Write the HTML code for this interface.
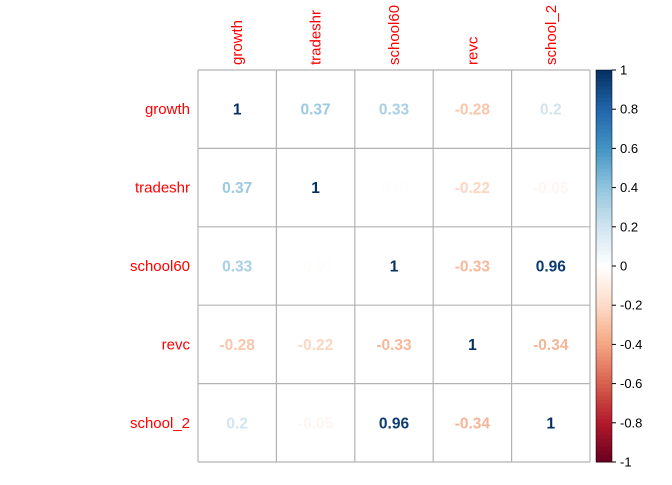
<!DOCTYPE html>
<html><head><meta charset="utf-8"><style>
body{margin:0;background:#fff}
text{font-family:"Liberation Sans",Arial,sans-serif}
</style></head><body>
<svg id="c" width="672" height="480" xmlns="http://www.w3.org/2000/svg"></svg>
<script>
const vars=["growth","tradeshr","school60","revc","school_2"];
const row0=[1,0.37,0.33,-0.28,0.2];
const row1=[0.37,1,-0.01,-0.22,-0.05];
const row2=[0.33,-0.01,1,-0.33,0.96];
const row3=[-0.28,-0.22,-0.33,1,-0.34];
const row4=[0.2,-0.05,0.96,-0.34,1];
const matrix=[row0,row1,row2,row3,row4];
const ticks=[-1,-0.8,-0.6,-0.4,-0.2,0,0.2,0.4,0.6,0.8,1];
const pal=["#67001F","#B2182B","#D6604D","#F4A582","#FDDBC7","#FFFFFF","#D1E5F0","#92C5DE","#4393C3","#2166AC","#053061"];
function hex(h){return [1,3,5].map(i=>parseInt(h.substr(i,2),16));}
function col(v){const t=(v+1)/2*(pal.length-1);const i=Math.min(Math.floor(t),pal.length-2);const f=t-i;
const a=hex(pal[i]),b=hex(pal[i+1]);return "rgb("+a.map((x,k)=>Math.round(x+(b[k]-x)*f)).join(",")+")";}
const svg=document.getElementById('c');const NS="http://www.w3.org/2000/svg";
function el(t,at,p){const e=document.createElementNS(NS,t);for(const k in at)e.setAttribute(k,at[k]);(p||svg).appendChild(e);return e;}
const L=198,T=70,S=392,n=vars.length,cw=S/n;
const X=j=>L+j*cw, Y=i=>T+i*cw;
for(let i=0;i<n;i++)for(let j=0;j<n;j++){
 const v=matrix[i][j];
 const tx=el('text',{x:X(j)+cw/2,y:Y(i)+cw/2+5.5,'text-anchor':'middle','font-size':15.5,'font-weight':'bold',fill:col(v)});
 
 
 tx.textContent=v;
}
for(let k=0;k<=n;k++){
 const a=el('line',{x1:X(k),y1:T,x2:X(k),y2:T+S,stroke:'#b3b3b3','stroke-width':1.2});
 
 const b=el('line',{x1:L,y1:Y(k),x2:L+S,y2:Y(k),stroke:'#b3b3b3','stroke-width':1.2});
 
}
vars.forEach((v,i)=>{
 const r=el('text',{x:190,y:Y(i)+cw/2+5,'text-anchor':'end','font-size':15,fill:'#ff0000'});
 r.textContent=v;
 const cx=X(i)+cw/2+5;
 const c=el('text',{x:cx,y:65,'font-size':15,fill:'#ff0000',transform:'rotate(-90 '+cx+' 65)'});
 c.textContent=v;
});
const bx=596,bw=16;
const g=el('g',{});
const steps=100;
for(let k=0;k<steps;k++){const v=-1+2*(k+0.5)/steps;
 el('rect',{x:bx,y:T+S-(k+1)*S/steps,width:bw,height:S/steps+0.5,fill:col(v)},g);}
el('rect',{x:bx,y:T,width:bw,height:S,fill:'none',stroke:'#000','stroke-width':0.5},g);
ticks.forEach(t=>{const y=T+S-(t+1)/2*S;
 el('line',{x1:bx+bw,y1:y,x2:bx+bw+4,y2:y,stroke:'#000'},g);
 const tx=el('text',{x:bx+bw+8,y:y+4.5,'font-size':13,fill:'#000'},g);
 tx.textContent=t;});
</script>
</body></html>
